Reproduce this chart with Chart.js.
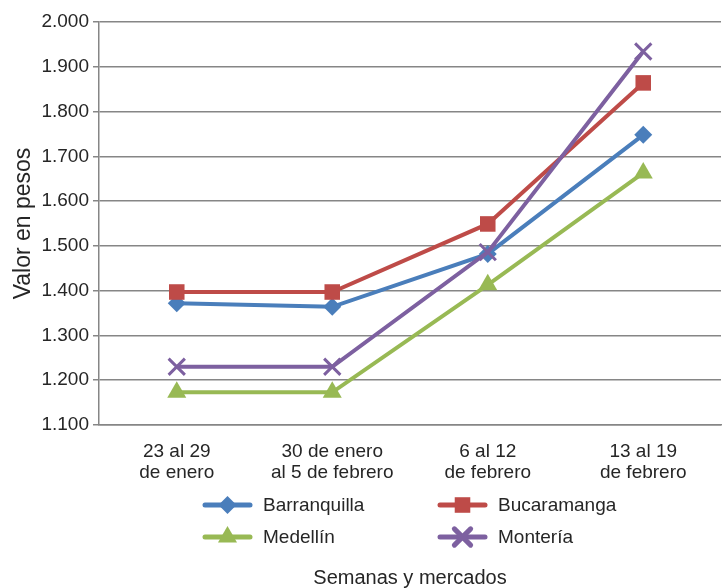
<!DOCTYPE html>
<html lang="es">
<head>
    <meta charset="UTF-8">
    <title>Valor en pesos por semana y mercado</title>
    <script src="https://cdn.jsdelivr.net/npm/chart.js@4.4.1/dist/chart.umd.min.js"></script>
    <style>
        html, body { margin: 0; padding: 0; background: #fff; }
        #wrap { width: 723px; height: 588px; }
    </style>
</head>
<body>
<div id="wrap">
    <canvas id="myChart" width="723" height="588"></canvas>
</div>

<script>
    // weeks on the x axis (two-line labels)
    const semanas = [
        ['23 al 29', 'de enero'],
        ['30 de enero', 'al 5 de febrero'],
        ['6 al 12', 'de febrero'],
        ['13 al 19', 'de febrero']
    ];

    // price per market
    const barranquilla = [1372, 1364, 1482, 1748];
    const bucaramanga  = [1397, 1397, 1549, 1864];
    const medellin     = [1173, 1173, 1413, 1663];
    const monteria     = [1230, 1230, 1486, 1934];

    const yMin = 1100, yMax = 2000, yStep = 100;

    const textColor = '#262626';
    const fontFam = '"Liberation Sans", Arial, sans-serif';

    // 1.100 style thousands
    function pesos(v) {
        const miles = Math.floor(v / 1000);
        const resto = String(v % 1000).padStart(3, '0');
        return miles > 0 ? miles + '.' + resto : String(v);
    }

    function serie(label, data, color, style, radius, order) {
        return {
            label: label,
            data: data,
            borderColor: color,
            backgroundColor: color,
            borderWidth: 4,
            tension: 0,
            pointStyle: style,
            pointRadius: radius,
            pointHoverRadius: radius,
            pointBorderWidth: style === 'crossRot' ? 3 : 0,
            pointBorderColor: color,
            pointBackgroundColor: color,
            order: order
        };
    }

    // legend in 2 columns + x axis title under it, like the original
    const legendaAbajo = {
        id: 'legendaAbajo',
        afterDraw(chart) {
            const ctx = chart.ctx;
            const slots = [[205, 505], [440, 505], [205, 537], [440, 537]];
            ctx.save();
            chart.data.datasets.forEach((ds, i) => {
                const [x, y] = slots[i];
                ctx.strokeStyle = ds.borderColor;
                ctx.lineWidth = 5;
                ctx.lineCap = 'round';
                ctx.beginPath();
                ctx.moveTo(x, y);
                ctx.lineTo(x + 45, y);
                ctx.stroke();
                ctx.fillStyle = ds.borderColor;
                Chart.helpers.drawPoint(ctx, {
                    pointStyle: ds.pointStyle,
                    radius: ds.pointRadius,
                    borderWidth: ds.pointBorderWidth || 0,
                    rotation: 0
                }, x + 22.5, y);
                ctx.fillStyle = textColor;
                ctx.font = '19px ' + fontFam;
                ctx.textAlign = 'left';
                ctx.textBaseline = 'middle';
                ctx.fillText(ds.label, x + 58, y + 1);
            });
            ctx.font = '20px ' + fontFam;
            ctx.textAlign = 'center';
            ctx.fillText('Semanas y mercados', (chart.chartArea.left + chart.chartArea.right) / 2, 578);
            ctx.restore();
        }
    };

    const ctx = document.getElementById('myChart').getContext('2d');
    const myChart = new Chart(ctx, {
        type: 'line',
        data: {
            labels: semanas,
            datasets: [
                serie('Barranquilla', barranquilla, '#4A7EBB', 'rectRot', 9, 4),
                serie('Bucaramanga', bucaramanga, '#BE4B48', 'rect', 11, 3),
                serie('Medellín', medellin, '#98B954', 'triangle', 11, 2),
                serie('Montería', monteria, '#7D60A0', 'crossRot', 11.5, 1)
            ]
        },
        options: {
            responsive: false,
            animation: false,
            layout: { autoPadding: false, padding: { left: 10, top: 22, right: 2, bottom: 0 } },
            plugins: {
                legend: { display: false },
                tooltip: { enabled: false }
            },
            scales: {
                x: {
                    offset: true,
                    grid: { display: false },
                    border: { display: true, color: '#868686', width: 1.5 },
                    ticks: {
                        color: textColor,
                        font: { family: fontFam, size: 19, lineHeight: 1.1 },
                        padding: 8,
                        maxRotation: 0,
                        autoSkip: false
                    },
                    afterFit: (s) => {
                        s.height = 163;
                        s.paddingLeft = 0;
                        s.paddingRight = 0;
                    }
                },
                y: {
                    min: yMin,
                    max: yMax,
                    grid: { color: '#868686', lineWidth: 1.5, tickLength: 6 },
                    border: { display: true, color: '#868686', width: 1.5 },
                    ticks: {
                        stepSize: yStep,
                        color: textColor,
                        font: { family: fontFam, size: 19 },
                        padding: 4,
                        callback: (v) => pesos(v)
                    },
                    title: {
                        display: true,
                        text: 'Valor en pesos',
                        color: textColor,
                        font: { family: fontFam, size: 23 },
                        padding: { top: 0, bottom: 4 }
                    },
                    afterFit: (s) => { s.width = 89; }
                }
            }
        },
        plugins: [legendaAbajo]
    });
</script>
</body>
</html>
